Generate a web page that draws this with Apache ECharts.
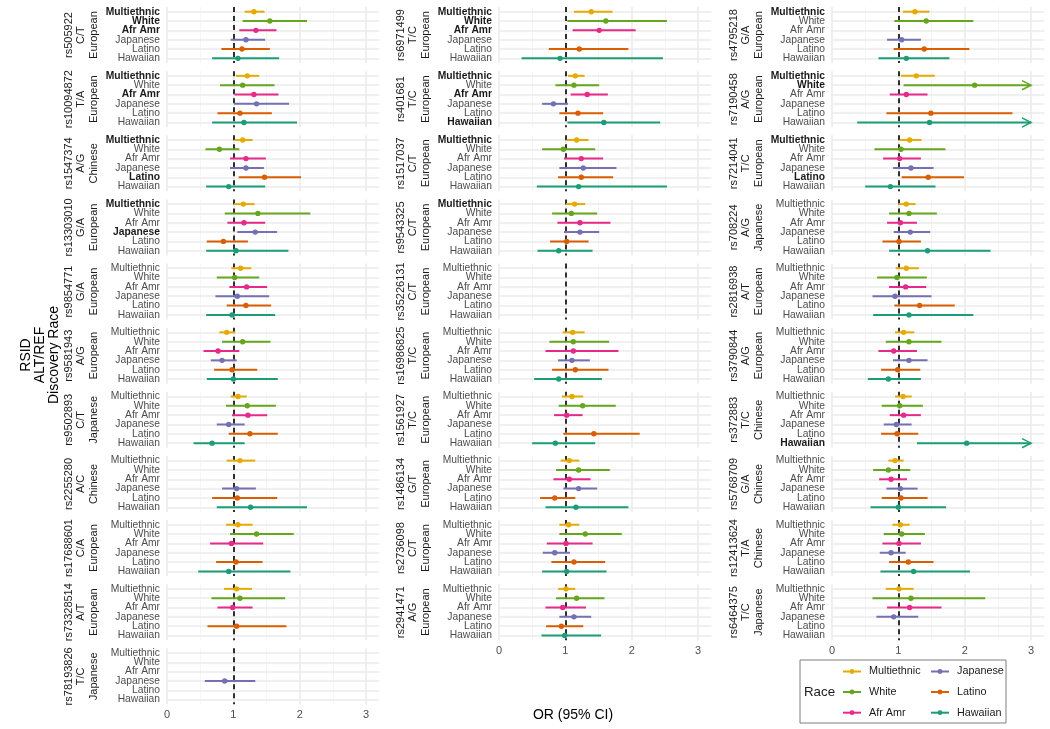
<!DOCTYPE html>
<html><head><meta charset="utf-8">
<script src="https://cdn.jsdelivr.net/npm/echarts@6/dist/echarts.min.js"></script>
<style>html,body{margin:0;padding:0;background:#fff}#c{width:1050px;height:729px}</style>
</head><body><div id="c"></div>
<script>
// ---------- data ----------
const races = ['Multiethnic','White','Afr Amr','Japanese','Latino','Hawaiian'];
const raceColors = ['#E6AB02','#66A61E','#E7298A','#7570B3','#D95F02','#1B9E77'];
const xTicks = [0,1,2,3];
const panelsPerColumn = [11,10,10];

const rsids = [
  'rs505922','rs10094872','rs1547374','rs13303010','rs9854771','rs9581943','rs9502893','rs2255280','rs17688601','rs73328514','rs78193826',
  'rs6971499','rs401681','rs1517037','rs9543325','rs35226131','rs16986825','rs1561927','rs1486134','rs2736098','rs2941471',
  'rs4795218','rs7190458','rs7214041','rs708224','rs2816938','rs3790844','rs372883','rs5768709','rs12413624','rs6464375'
];
const alleles = [
  'C/T','T/A','A/G','G/A','G/A','A/G','C/T','A/C','C/A','A/T','T/C',
  'T/C','T/C','C/T','C/T','C/T','T/C','T/C','G/T','C/T','A/G',
  'G/A','A/G','T/C','A/G','A/T','A/G','T/C','G/A','T/A','T/C'
];
const discoveryRaces = [
  'European','European','Chinese','European','European','European','Japanese','Chinese','European','European','Japanese',
  'European','European','European','European','European','European','European','European','European','European',
  'European','European','European','Japanese','European','European','Chinese','Chinese','Chinese','Japanese'
];
const _ = null;
const orPoint = [
  [1.31,1.55,1.34,1.19,1.13,1.07],[1.21,1.14,1.31,1.35,1.10,1.16],[1.14,0.79,1.19,1.19,1.47,0.93],[1.15,1.37,1.16,1.33,0.85,1.04],
  [1.11,1.02,1.20,1.06,1.19,0.98],[0.90,1.14,0.77,0.83,0.98,1.00],[1.07,1.21,1.22,0.93,1.25,0.68],[1.10,_,_,1.05,1.06,1.26],
  [1.07,1.35,0.97,_,1.04,0.93],[1.05,1.10,0.99,_,1.05,_],[_,_,_,0.87,_,_],
  [1.39,1.61,1.51,_,1.21,0.92],[1.15,1.13,1.33,0.82,1.19,1.58],[1.17,0.97,1.24,1.27,1.24,1.20],[1.14,1.09,1.22,1.22,1.02,0.90],
  [_,_,_,_,_,_],[1.11,1.12,1.12,1.10,1.15,0.90],[1.10,1.26,1.02,_,1.43,0.85],[1.06,1.20,1.06,1.20,0.84,1.16],
  [1.05,1.30,1.01,0.84,1.13,1.02],[1.01,1.17,0.96,1.13,0.94,0.99],
  [1.25,1.42,_,1.05,1.39,1.12],[1.27,2.15,1.12,_,1.49,1.47],[1.17,1.04,1.02,1.19,1.45,0.88],[1.12,1.16,1.03,1.18,1.01,1.44],
  [1.12,0.98,1.11,0.95,1.32,1.16],[1.08,1.16,0.93,1.16,0.99,0.85],[1.07,1.02,1.08,0.97,0.98,2.03],[0.95,0.85,0.89,1.03,1.04,1.00],
  [1.03,1.05,1.01,0.89,1.15,1.23],[1.01,1.19,1.17,0.93,_,_]
];
const orLow = [
  [1.17,1.14,1.09,0.96,0.82,0.68],[1.04,0.80,1.02,1.01,0.76,0.68],[1.02,0.58,0.95,0.95,1.08,0.59],[1.01,0.87,0.91,1.06,0.60,0.59],
  [0.97,0.75,0.94,0.73,0.90,0.59],[0.79,0.83,0.55,0.66,0.71,0.60],[0.96,0.89,0.98,0.75,0.93,0.40],[0.90,_,_,0.83,0.68,0.75],
  [0.89,0.95,0.65,_,0.74,0.47],[0.86,0.67,0.76,_,0.61,_],[_,_,_,0.57,_,_],
  [1.13,1.03,1.11,_,0.75,0.34],[1.04,0.85,1.08,0.65,0.91,1.03],[1.02,0.65,0.98,0.91,0.89,0.57],[1.01,0.80,0.88,0.98,0.77,0.58],
  [_,_,_,_,_,_],[0.96,0.76,0.70,0.89,0.80,0.53],[0.95,0.90,0.83,_,0.97,0.50],[0.93,0.86,0.82,0.97,0.62,0.70],
  [0.91,0.91,0.72,0.66,0.79,0.65],[0.89,0.86,0.70,0.91,0.71,0.64],
  [1.07,0.94,_,0.83,0.93,0.70],[1.04,1.08,0.87,_,0.82,0.38],[1.02,0.64,0.77,0.92,1.05,0.50],[1.00,0.86,0.83,0.93,0.76,0.86],
  [0.96,0.68,0.86,0.61,0.94,0.62],[0.95,0.81,0.70,0.92,0.74,0.54],[0.95,0.75,0.87,0.78,0.74,1.28],[0.85,0.62,0.71,0.82,0.75,0.58],
  [0.91,0.78,0.76,0.72,0.86,0.73],[0.81,0.61,0.83,0.67,_,_]
];
const orHigh = [
  [1.47,2.11,1.65,1.48,1.55,1.69],[1.39,1.62,1.68,1.84,1.58,1.96],[1.29,1.09,1.49,1.46,2.02,1.48],[1.32,2.16,1.48,1.66,1.22,1.83],
  [1.27,1.39,1.51,1.54,1.57,1.63],[1.03,1.56,1.09,1.05,1.36,1.67],[1.20,1.64,1.51,1.17,1.67,1.17],[1.33,_,_,1.34,1.66,2.11],
  [1.29,1.91,1.45,_,1.44,1.86],[1.28,1.78,1.29,_,1.80,_],[_,_,_,1.33,_,_],
  [1.71,2.53,2.06,_,1.95,2.47],[1.29,1.51,1.64,1.04,1.57,2.43],[1.35,1.45,1.57,1.77,1.72,2.53],[1.30,1.48,1.68,1.51,1.35,1.41],
  [_,_,_,_,_,_],[1.29,1.66,1.80,1.37,1.65,1.55],[1.27,1.76,1.26,_,2.12,1.45],[1.21,1.67,1.38,1.48,1.15,1.95],
  [1.21,1.85,1.41,1.07,1.60,1.62],[1.15,1.59,1.31,1.39,1.27,1.54],
  [1.47,2.13,_,1.34,2.07,1.77],[1.55,3.50,1.44,_,2.72,3.60],[1.35,1.71,1.34,1.53,1.99,1.56],[1.26,1.58,1.28,1.48,1.34,2.39],
  [1.31,1.43,1.42,1.50,1.85,2.13],[1.24,1.65,1.28,1.44,1.33,1.34],[1.20,1.37,1.34,1.20,1.30,3.30],[1.08,1.18,1.13,1.29,1.44,1.72],
  [1.17,1.40,1.34,1.11,1.53,2.08],[1.23,2.31,1.65,1.30,_,_]
];
// races shown in bold per panel (indices into races)
const boldRaces = [
  [0,1,2],[0,2],[0,4],[0,3],[],[],[],[],[],[],[],
  [0,1,2],[0,2,5],[0],[0],[],[],[],[],[],[],
  [0],[0,1],[0,4],[],[],[],[5],[],[],[]
];
const xDisplayMax = 3;   // CIs beyond this get an arrow

// ---------- layout ----------
const FONT = '"Liberation Sans", Arial, sans-serif';
const colLeft = [167, 499, 832];
const unitPx = 66.35;
const xMax = 3.2;
const gridW = xMax * unitPx;
const firstTop = 7.03, pitch = 64.13, gridH = 56;

const grids = [], xAxes = [], yAxes = [], series = [];
let p = 0;
panelsPerColumn.forEach((n, c) => {
  for (let r = 0; r < n; r++, p++) {
    const isBottom = r === n - 1;
    const bold = boldRaces[p];
    grids.push({left: colLeft[c], top: firstTop + pitch * r, width: gridW, height: gridH});
    xAxes.push({
      gridIndex: p, type: 'value', min: 0, max: xMax, interval: 1,
      axisLine: {show: false}, axisTick: {show: false}, splitLine: {show: false},
      axisLabel: {show: isBottom, margin: 5, fontSize: 11, color: '#4d4d4d', fontFamily: FONT,
        formatter: v => xTicks.indexOf(v) >= 0 ? String(v) : ''}
    });
    yAxes.push({
      gridIndex: p, type: 'category', inverse: true, data: races,
      axisLine: {show: false}, axisTick: {show: false}, splitLine: {show: false},
      axisLabel: {interval: 0, margin: 7, fontSize: 10.3, color: '#4d4d4d', fontFamily: FONT,
        formatter: (v, i) => bold.indexOf(i) >= 0 ? '{b|' + v + '}' : v,
        rich: {b: {fontWeight: 'bold', color: '#1a1a1a', fontSize: 10.3, fontFamily: FONT}}},
      name: rsids[p] + '\n' + alleles[p] + '\n' + discoveryRaces[p],
      nameLocation: 'middle', nameRotate: 90, nameGap: 67,
      nameTextStyle: {fontSize: 11, lineHeight: 12.5, color: '#1a1a1a', fontFamily: FONT}
    });
    const data = races.map((rc, i) => [i, orLow[p][i], orPoint[p][i], orHigh[p][i]]);
    const ml = [];
    [0, 1, 2, 3].forEach(v => ml.push({xAxis: v, lineStyle: {color: '#ebebeb', width: 1.6, type: 'solid'}}));
    [0.5, 1.5, 2.5].forEach(v => ml.push({xAxis: v, lineStyle: {color: '#f2f2f2', width: 0.8, type: 'solid'}}));
    races.forEach((rc, i) => ml.push({yAxis: i, lineStyle: {color: '#ebebeb', width: 1.6, type: 'solid'}}));
    ml.push({xAxis: 1, lineStyle: {color: '#000', width: 1.6, type: [5, 4]}});
    series.push({
      type: 'custom', xAxisIndex: p, yAxisIndex: p, z: 3,
      encode: {x: [1, 2, 3], y: 0},
      data: data,
      renderItem: (params, api) => {
        const idx = api.value(0), lo = api.value(1), pt = api.value(2), hi = api.value(3);
        if (isNaN(pt) || isNaN(lo)) return null;
        const color = raceColors[idx];
        const hiC = Math.min(hi, xDisplayMax);
        const a = api.coord([lo, idx]), b = api.coord([hiC, idx]), m = api.coord([pt, idx]);
        const ch = [
          {type: 'line', shape: {x1: a[0], y1: a[1], x2: b[0], y2: b[1]}, style: {stroke: color, lineWidth: 2}},
          {type: 'circle', shape: {cx: m[0], cy: m[1], r: 2.7}, style: {fill: color}}
        ];
        if (hi > xDisplayMax) {
          ch.push({type: 'polyline', shape: {points: [[b[0] - 9, b[1] - 4.6], [b[0], b[1]], [b[0] - 9, b[1] + 4.6]]},
            style: {stroke: color, fill: null, lineWidth: 1.5}});
        }
        return {type: 'group', children: ch};
      },
      markLine: {silent: true, z: 1, symbol: ['none', 'none'], label: {show: false}, animation: false, data: ml}
    });
  }
});

// legend (drawn as graphic)
const legendEls = [
  {type: 'rect', shape: {x: 800, y: 660, width: 206, height: 63}, style: {fill: '#fff', stroke: '#7f7f7f', lineWidth: 1}},
  {type: 'text', x: 804, y: 692, style: {text: 'Race', fontSize: 13.3, fill: '#1a1a1a', font: '13.3px ' + FONT, verticalAlign: 'middle', align: 'left'}}
];
const legRowY = [671.5, 692, 712.7];
const legKeyX = [843, 931];
races.forEach((rc, i) => {
  const col = Math.floor(i / 3), row = i % 3;
  const x0 = legKeyX[col], y = legRowY[row];
  legendEls.push({type: 'line', shape: {x1: x0, y1: y, x2: x0 + 18, y2: y}, style: {stroke: raceColors[i], lineWidth: 2}});
  legendEls.push({type: 'circle', shape: {cx: x0 + 9, cy: y, r: 2.4}, style: {fill: raceColors[i]}});
  legendEls.push({type: 'text', x: x0 + 26, y: y, style: {text: rc, fill: '#1a1a1a', font: '10.8px ' + FONT, verticalAlign: 'middle', align: 'left'}});
});

const chart = echarts.init(document.getElementById('c'), null, {renderer: 'canvas'});
chart.setOption({
  animation: false,
  backgroundColor: '#fff',
  textStyle: {fontFamily: FONT},
  grid: grids, xAxis: xAxes, yAxis: yAxes, series: series,
  graphic: [
    {type: 'text', x: 40, y: 355, rotation: Math.PI / 2,
      style: {text: 'RSID\nALT/REF\nDiscovery Race', font: '14px ' + FONT, lineHeight: 14, fill: '#000', align: 'center', verticalAlign: 'middle'}},
    {type: 'text', x: 573, y: 715,
      style: {text: 'OR (95% CI)', font: '14px ' + FONT, fill: '#000', align: 'center', verticalAlign: 'middle'}}
  ].concat(legendEls)
});
</script></body></html>
